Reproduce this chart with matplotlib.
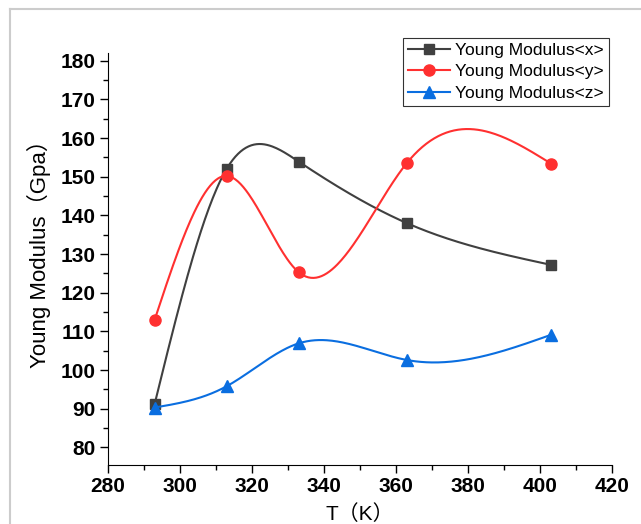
import matplotlib
matplotlib.use('Agg')
import matplotlib.pyplot as plt
import numpy as np
from matplotlib.ticker import MultipleLocator
from matplotlib.lines import Line2D

T = [293, 313, 333, 363, 403]
ym_x = [91.1, 152.0, 153.9, 138.0, 127.2]
ym_y = [112.9, 150.2, 125.3, 153.5, 153.4]
ym_z = [90.3, 95.8, 106.9, 102.6, 109.1]
labels = ['Young Modulus<x>', 'Young Modulus<y>', 'Young Modulus<z>']


def natural_spline(xs, ys, n=300):
    xs = np.asarray(xs, float)
    ys = np.asarray(ys, float)
    k = len(xs)
    h = np.diff(xs)
    A = np.zeros((k, k))
    b = np.zeros(k)
    A[0, 0] = 1
    A[-1, -1] = 1
    for i in range(1, k - 1):
        A[i, i - 1] = h[i - 1]
        A[i, i] = 2 * (h[i - 1] + h[i])
        A[i, i + 1] = h[i]
        b[i] = 6 * ((ys[i + 1] - ys[i]) / h[i] - (ys[i] - ys[i - 1]) / h[i - 1])
    M = np.linalg.solve(A, b)
    xx = np.linspace(xs[0], xs[-1], n)
    yy = np.empty_like(xx)
    for j, t in enumerate(xx):
        i = min(np.searchsorted(xs, t) - 1, k - 2)
        i = max(i, 0)
        a = xs[i + 1] - t
        c = t - xs[i]
        yy[j] = (M[i] * a ** 3 + M[i + 1] * c ** 3) / (6 * h[i]) \
            + (ys[i] / h[i] - M[i] * h[i] / 6) * a \
            + (ys[i + 1] / h[i] - M[i + 1] * h[i] / 6) * c
    return xx, yy


plt.rcParams['font.family'] = ['Liberation Sans', 'Noto Sans CJK SC']

fig = plt.figure(figsize=(6.41, 5.24), dpi=100)
ax = fig.add_axes([0.168, 0.113, 0.787, 0.786])

styles = [
    (ym_x, '#404040', 's', 7),
    (ym_y, '#ff3030', 'o', 8),
    (ym_z, '#0a6ee0', '^', 8),
]
handles = []
for (vals, col, mk, ms), lab in zip(styles, labels):
    xx, yy = natural_spline(T, vals)
    ax.plot(xx, yy, color=col, linewidth=1.5)
    ax.plot(T, vals, linestyle='none', marker=mk, color=col, markersize=ms)
    handles.append(Line2D([], [], color=col, marker=mk, markersize=ms, linewidth=1.5, label=lab))

ax.set_xlim(280, 420)
ax.set_ylim(75.5, 182)
ax.xaxis.set_major_locator(MultipleLocator(20))
ax.xaxis.set_minor_locator(MultipleLocator(10))
ax.yaxis.set_major_locator(MultipleLocator(10))
ax.yaxis.set_minor_locator(MultipleLocator(5))
ax.set_yticks(np.arange(80, 181, 10))
ax.spines['top'].set_visible(False)
ax.spines['right'].set_visible(False)
ax.tick_params(which='major', direction='out', length=6, width=1, labelsize=15, pad=3)
ax.tick_params(which='minor', direction='out', length=3.5, width=1)
for t in ax.get_xticklabels() + ax.get_yticklabels():
    t.set_fontweight('bold')

ax.set_xlabel('T（K）', fontsize=15, labelpad=6)
ax.set_ylabel('Young Modulus（Gpa）', fontsize=16, labelpad=6)
ax.yaxis.set_label_coords(-0.112, 0.525)

leg = ax.legend(handles=handles, loc='upper right', bbox_to_anchor=(1.0, 1.045),
                fontsize=12.5, frameon=True, fancybox=False, handlelength=2.4,
                borderpad=0.3, labelspacing=0.35, handletextpad=0.3, borderaxespad=0.2)
leg.get_frame().set_edgecolor('black')
leg.get_frame().set_linewidth(0.8)

# screenshot border
fig.add_artist(Line2D([0.015, 1.0], [0.983, 0.983], color='#cccccc', linewidth=1.5))
fig.add_artist(Line2D([0.015, 0.015], [0.0, 0.983], color='#cccccc', linewidth=1.5))

fig.savefig('out.png', dpi=100)
